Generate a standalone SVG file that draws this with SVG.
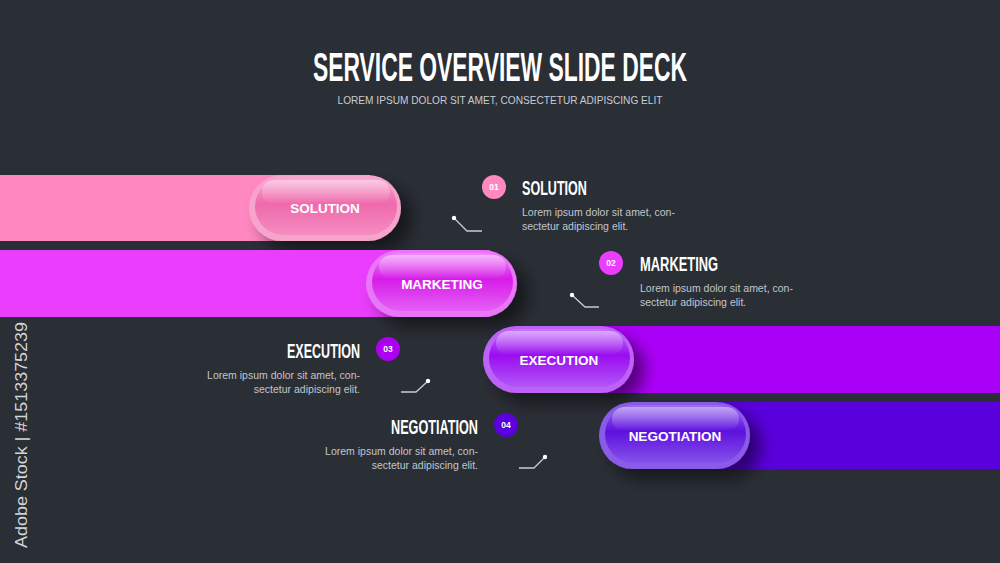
<svg xmlns="http://www.w3.org/2000/svg" width="1000" height="563" viewBox="0 0 1000 563">
<defs>
<style>
.title{font-family:"Liberation Sans",Arial,sans-serif;font-weight:bold;fill:#ffffff}
.sub{font-family:"Liberation Sans",Arial,sans-serif;fill:#c9ccd1}
.head{font-family:"Liberation Sans",Arial,sans-serif;font-weight:bold;fill:#ffffff;font-size:20px}
.body{font-family:"Liberation Sans",Arial,sans-serif;fill:#c3c6cb;font-size:10.5px}
.num{font-family:"Liberation Sans",Arial,sans-serif;font-weight:bold;fill:#ffffff;font-size:8.5px;text-anchor:middle}
.lbl{font-family:"Liberation Sans",Arial,sans-serif;font-weight:bold;fill:#ffffff;font-size:13.5px;text-anchor:middle}
.conn{fill:none;stroke:#c9ccd1;stroke-width:1.3}
.dot{fill:#ffffff}
.hl{fill:url(#hl)}
</style>
<filter id="sh" x="-30%" y="-50%" width="170%" height="220%">
<feGaussianBlur in="SourceAlpha" stdDeviation="8"/>
<feOffset dx="11" dy="10" result="b"/>
<feComponentTransfer><feFuncA type="linear" slope="0.5"/></feComponentTransfer>
<feMerge><feMergeNode/><feMergeNode in="SourceGraphic"/></feMerge>
</filter>
<linearGradient id="hl" x1="0" y1="0" x2="0" y2="1">
<stop offset="0" stop-color="#ffffff" stop-opacity="0.4"/>
<stop offset="1" stop-color="#ffffff" stop-opacity="0"/>
</linearGradient>
<linearGradient id="g1" x1="0" y1="0" x2="0" y2="1">
<stop offset="0" stop-color="#f9a9d2"/><stop offset="0.45" stop-color="#ef6aac"/><stop offset="1" stop-color="#f58cc1"/>
</linearGradient>
<linearGradient id="g2" x1="0" y1="0" x2="0" y2="1">
<stop offset="0" stop-color="#f08cfb"/><stop offset="0.45" stop-color="#d61ce8"/><stop offset="1" stop-color="#e560f5"/>
</linearGradient>
<linearGradient id="g3" x1="0" y1="0" x2="0" y2="1">
<stop offset="0" stop-color="#c877fb"/><stop offset="0.45" stop-color="#9a0cf0"/><stop offset="1" stop-color="#b256f7"/>
</linearGradient>
<linearGradient id="g4" x1="0" y1="0" x2="0" y2="1">
<stop offset="0" stop-color="#9c6ff0"/><stop offset="0.45" stop-color="#5e10de"/><stop offset="1" stop-color="#8552ea"/>
</linearGradient>
</defs>
<rect x="0" y="0" width="1000" height="563" fill="#2a2e35"/>

<g id="title">
<text class="title" x="500" y="81" font-size="40" text-anchor="middle" textLength="374" lengthAdjust="spacingAndGlyphs">SERVICE OVERVIEW SLIDE DECK</text>
<text class="sub" x="500" y="104" font-size="11" text-anchor="middle" textLength="325" lengthAdjust="spacingAndGlyphs">LOREM IPSUM DOLOR SIT AMET, CONSECTETUR ADIPISCING ELIT</text>
</g>

<g id="watermark">
<text x="27" y="548" transform="rotate(-90 27 548)" font-family="Liberation Sans, Arial, sans-serif" font-size="17" fill="#d2d4d8" textLength="226" lengthAdjust="spacingAndGlyphs">Adobe Stock | #1513375239</text>
</g>

<g id="bar1">
<rect x="-10" y="175" width="380" height="66" fill="#ff88c0"/>
<g filter="url(#sh)">
<rect x="249" y="175" width="152" height="66" rx="33" fill="#f7a4cd"/>
</g>
<rect x="255" y="178" width="142" height="57" rx="28.5" fill="url(#g1)"/>
<rect x="262" y="180" width="128" height="24" rx="12" class="hl"/>
<text class="lbl" x="325" y="213">SOLUTION</text>
</g>

<g id="bar2">
<rect x="-10" y="250" width="500" height="67" fill="#ea3dfd"/>
<g filter="url(#sh)">
<rect x="366" y="250" width="151" height="67" rx="33.5" fill="#e975f8"/>
</g>
<rect x="372" y="253" width="141" height="58" rx="29" fill="url(#g2)"/>
<rect x="379" y="255" width="127" height="24" rx="12" class="hl"/>
<text class="lbl" x="442" y="289">MARKETING</text>
</g>

<g id="bar3">
<rect x="520" y="326" width="490" height="67" fill="#ab00f8"/>
<g filter="url(#sh)">
<rect x="483" y="326" width="151" height="67" rx="33.5" fill="#bc62f6"/>
</g>
<rect x="489" y="329" width="141" height="58" rx="29" fill="url(#g3)"/>
<rect x="496" y="331" width="127" height="24" rx="12" class="hl"/>
<text class="lbl" x="559" y="365">EXECUTION</text>
</g>

<g id="bar4">
<rect x="640" y="402" width="370" height="67" fill="#5a00dc"/>
<g filter="url(#sh)">
<rect x="599" y="402" width="151" height="67" rx="33.5" fill="#8a5ae8"/>
</g>
<rect x="605" y="405" width="141" height="58" rx="29" fill="url(#g4)"/>
<rect x="612" y="407" width="127" height="24" rx="12" class="hl"/>
<text class="lbl" x="675" y="441">NEGOTIATION</text>
</g>

<g id="connectors">
<polyline class="conn" points="454,218 467,231 482,231"/>
<circle class="dot" cx="454" cy="218" r="2.2"/>
<polyline class="conn" points="572,295 585,307 599,307"/>
<circle class="dot" cx="572" cy="295" r="2.2"/>
<polyline class="conn" points="401,392 416,392 428,381"/>
<circle class="dot" cx="428" cy="381" r="2.2"/>
<polyline class="conn" points="519,468 534,468 545,457"/>
<circle class="dot" cx="545" cy="457" r="2.2"/>
</g>

<g id="step1">
<circle cx="494" cy="187" r="12" fill="#ff88c0"/>
<text class="num" x="494" y="190">01</text>
<text class="head" transform="translate(522 195) scale(0.63 1)" x="0" y="0" textLength="103" lengthAdjust="spacingAndGlyphs">SOLUTION</text>
<text class="body" x="522" y="216">Lorem ipsum dolor sit amet, con-</text>
<text class="body" x="522" y="230">sectetur adipiscing elit.</text>
</g>

<g id="step2">
<circle cx="611" cy="263" r="12" fill="#ea3dfd"/>
<text class="num" x="611" y="266">02</text>
<text class="head" transform="translate(640 271) scale(0.63 1)" x="0" y="0" textLength="124" lengthAdjust="spacingAndGlyphs">MARKETING</text>
<text class="body" x="640" y="292">Lorem ipsum dolor sit amet, con-</text>
<text class="body" x="640" y="306">sectetur adipiscing elit.</text>
</g>

<g id="step3">
<circle cx="388" cy="349" r="12" fill="#ab00f0"/>
<text class="num" x="388" y="352">03</text>
<text class="head" transform="translate(287 358) scale(0.63 1)" x="0" y="0" textLength="116" lengthAdjust="spacingAndGlyphs">EXECUTION</text>
<text class="body" x="360" y="379" text-anchor="end">Lorem ipsum dolor sit amet, con-</text>
<text class="body" x="360" y="393" text-anchor="end">sectetur adipiscing elit.</text>
</g>

<g id="step4">
<circle cx="506" cy="425" r="12" fill="#5a00dc"/>
<text class="num" x="506" y="428">04</text>
<text class="head" transform="translate(391 434) scale(0.63 1)" x="0" y="0" textLength="138" lengthAdjust="spacingAndGlyphs">NEGOTIATION</text>
<text class="body" x="478" y="455" text-anchor="end">Lorem ipsum dolor sit amet, con-</text>
<text class="body" x="478" y="469" text-anchor="end">sectetur adipiscing elit.</text>
</g>
</svg>
